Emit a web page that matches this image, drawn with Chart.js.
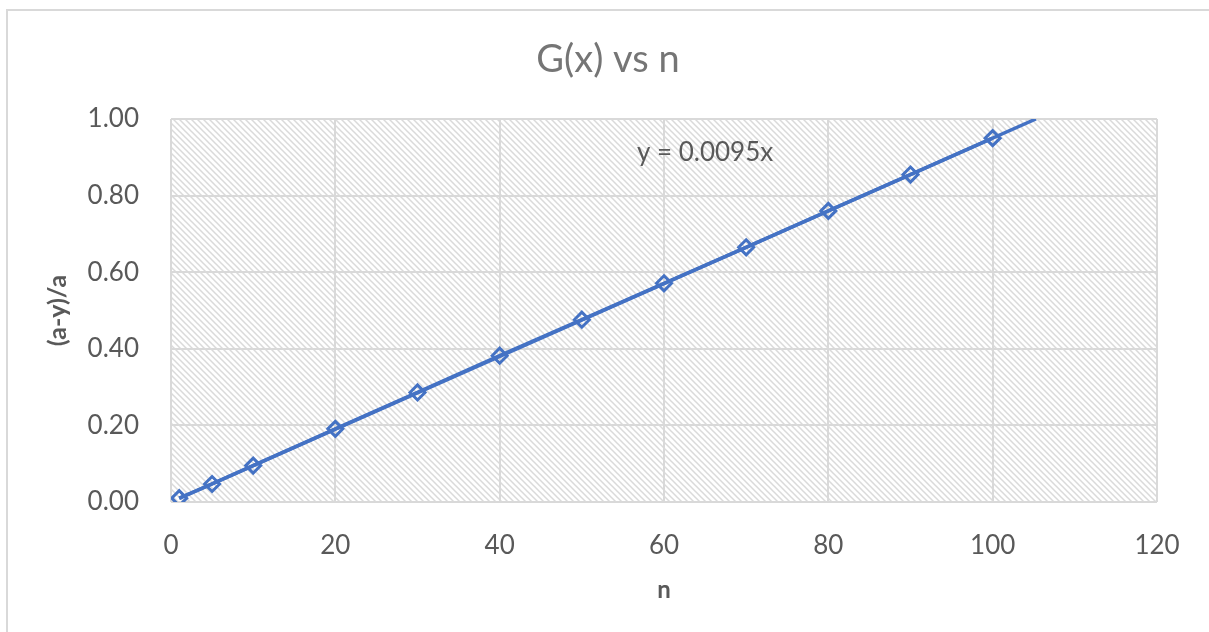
<!DOCTYPE html>
<html>
<head>
<meta charset="utf-8">
<script src="https://cdn.jsdelivr.net/npm/chart.js@4.4.1/dist/chart.umd.min.js"></script>
<style>
  html, body { margin: 0; padding: 0; background: #ffffff; }
  #wrap { width: 1209px; height: 632px; position: relative; }
</style>
</head>
<body>
<div id="wrap"><canvas id="c" width="1209" height="632"></canvas></div>
<script>
// Measured samples: n and the normalised quantity (a-y)/a
const nValues = [1, 5, 10, 20, 30, 40, 50, 60, 70, 80, 90, 100];
const gValues = [0.010, 0.047, 0.095, 0.191, 0.286, 0.382, 0.476, 0.571, 0.665, 0.760, 0.855, 0.950];

// Linear fit through the origin, as printed on the chart
const trendSlope = 0.0095;
const trendLabel = 'y = 0.0095x';

const xTicks = [0, 20, 40, 60, 80, 100, 120];
const yTicks = [0, 0.2, 0.4, 0.6, 0.8, 1.0];

const chartTitle = 'G(x) vs n';
const xTitle = 'n';
const yTitle = '(a-y)/a';

const FONT = 'Lato, "Open Sans", "Liberation Sans", sans-serif';
const BLUE = '#4472C4';
const GRID = '#d9d9d9';
const TEXT = '#595959';

// Trend line runs from the first sample up to where it leaves the plot
const trendPoints = [
  { x: nValues[0], y: trendSlope * nValues[0] },
  { x: 1 / trendSlope, y: 1 }
];

// Diagonal hatch used as the plot-area fill
function makeHatch(ctx) {
  const t = document.createElement('canvas');
  t.width = 6; t.height = 6;
  const g = t.getContext('2d');
  g.strokeStyle = '#dadada';
  g.lineWidth = 1.5;
  g.beginPath();
  g.moveTo(-1, -1); g.lineTo(7, 7);
  g.moveTo(-4, 2); g.lineTo(4, 10);
  g.moveTo(2, -4); g.lineTo(10, 4);
  g.stroke();
  return ctx.createPattern(t, 'repeat');
}

const framePlugin = {
  id: 'frame',
  beforeDraw(chart) {
    const { ctx, chartArea: a } = chart;
    ctx.save();
    ctx.fillStyle = '#ffffff';
    ctx.fillRect(0, 0, chart.width, chart.height);
    ctx.strokeStyle = GRID;
    ctx.lineWidth = 2;
    ctx.strokeRect(7, 10, chart.width + 20, chart.height + 20);
    ctx.fillStyle = makeHatch(ctx);
    ctx.fillRect(a.left, a.top, a.right - a.left, a.bottom - a.top);
    // chart title, centred over the whole frame
    ctx.font = '38px ' + FONT;
    ctx.fillStyle = '#757575';
    ctx.textAlign = 'center';
    ctx.textBaseline = 'middle';
    ctx.fillText(chartTitle, 608, 60);
    ctx.restore();
  }
};

const trendLabelPlugin = {
  id: 'trendLabel',
  afterDatasetsDraw(chart) {
    const { ctx, scales } = chart;
    ctx.save();
    ctx.font = '26px ' + FONT;
    ctx.fillStyle = TEXT;
    ctx.textAlign = 'left';
    ctx.textBaseline = 'middle';
    ctx.fillText(trendLabel, scales.x.getPixelForValue(56.7), scales.y.getPixelForValue(0.911));
    ctx.restore();
  }
};

new Chart(document.getElementById('c'), {
  type: 'scatter',
  data: {
    datasets: [
      {
        label: 'trend',
        data: trendPoints,
        showLine: true,
        borderColor: BLUE,
        borderWidth: 3.5,
        pointRadius: 0,
        order: 0
      },
      {
        label: 'G(x)',
        data: nValues.map((n, i) => ({ x: n, y: gValues[i] })),
        showLine: true,
        borderColor: BLUE,
        borderWidth: 3.5,
        pointStyle: 'rectRot',
        pointRadius: 7.5,
        pointBorderWidth: 3,
        pointBorderColor: BLUE,
        pointBackgroundColor: 'rgba(255,255,255,0)',
        order: 1
      }
    ]
  },
  options: {
    responsive: false,
    animation: false,
    layout: { padding: { left: 0, right: 52, top: 119, bottom: 0 } },
    plugins: {
      legend: { display: false },
      tooltip: { enabled: false },
      title: { display: false }
    },
    scales: {
      x: {
        type: 'linear',
        min: 0, max: 120,
        afterBuildTicks(s) { s.ticks = xTicks.map(v => ({ value: v })); },
        afterFit(s) { s.height = 130; },
        border: { display: false },
        grid: { color: GRID, lineWidth: 2, drawTicks: false },
        ticks: {
          color: TEXT,
          font: { family: FONT, size: 26 },
          padding: 28,
          maxRotation: 0,
          callback: v => String(v)
        },
        title: {
          display: true,
          text: xTitle,
          color: TEXT,
          font: { family: FONT, size: 24, weight: 'bold', lineHeight: 1.2 },
          padding: { top: 0, bottom: 27.6 }
        }
      },
      y: {
        type: 'linear',
        min: 0, max: 1,
        afterBuildTicks(s) { s.ticks = yTicks.map(v => ({ value: v })); },
        afterFit(s) { s.width = 171; },
        border: { display: false },
        grid: { color: GRID, lineWidth: 2, drawTicks: false },
        ticks: {
          color: TEXT,
          font: { family: FONT, size: 26 },
          padding: 32,
          callback: v => Number(v).toFixed(2)
        },
        title: {
          display: true,
          text: yTitle,
          color: TEXT,
          font: { family: FONT, size: 25, weight: 'bold', lineHeight: 1.2 },
          padding: { top: 43, bottom: 0 }
        }
      }
    }
  },
  plugins: [framePlugin, trendLabelPlugin]
});
</script>
</body>
</html>
